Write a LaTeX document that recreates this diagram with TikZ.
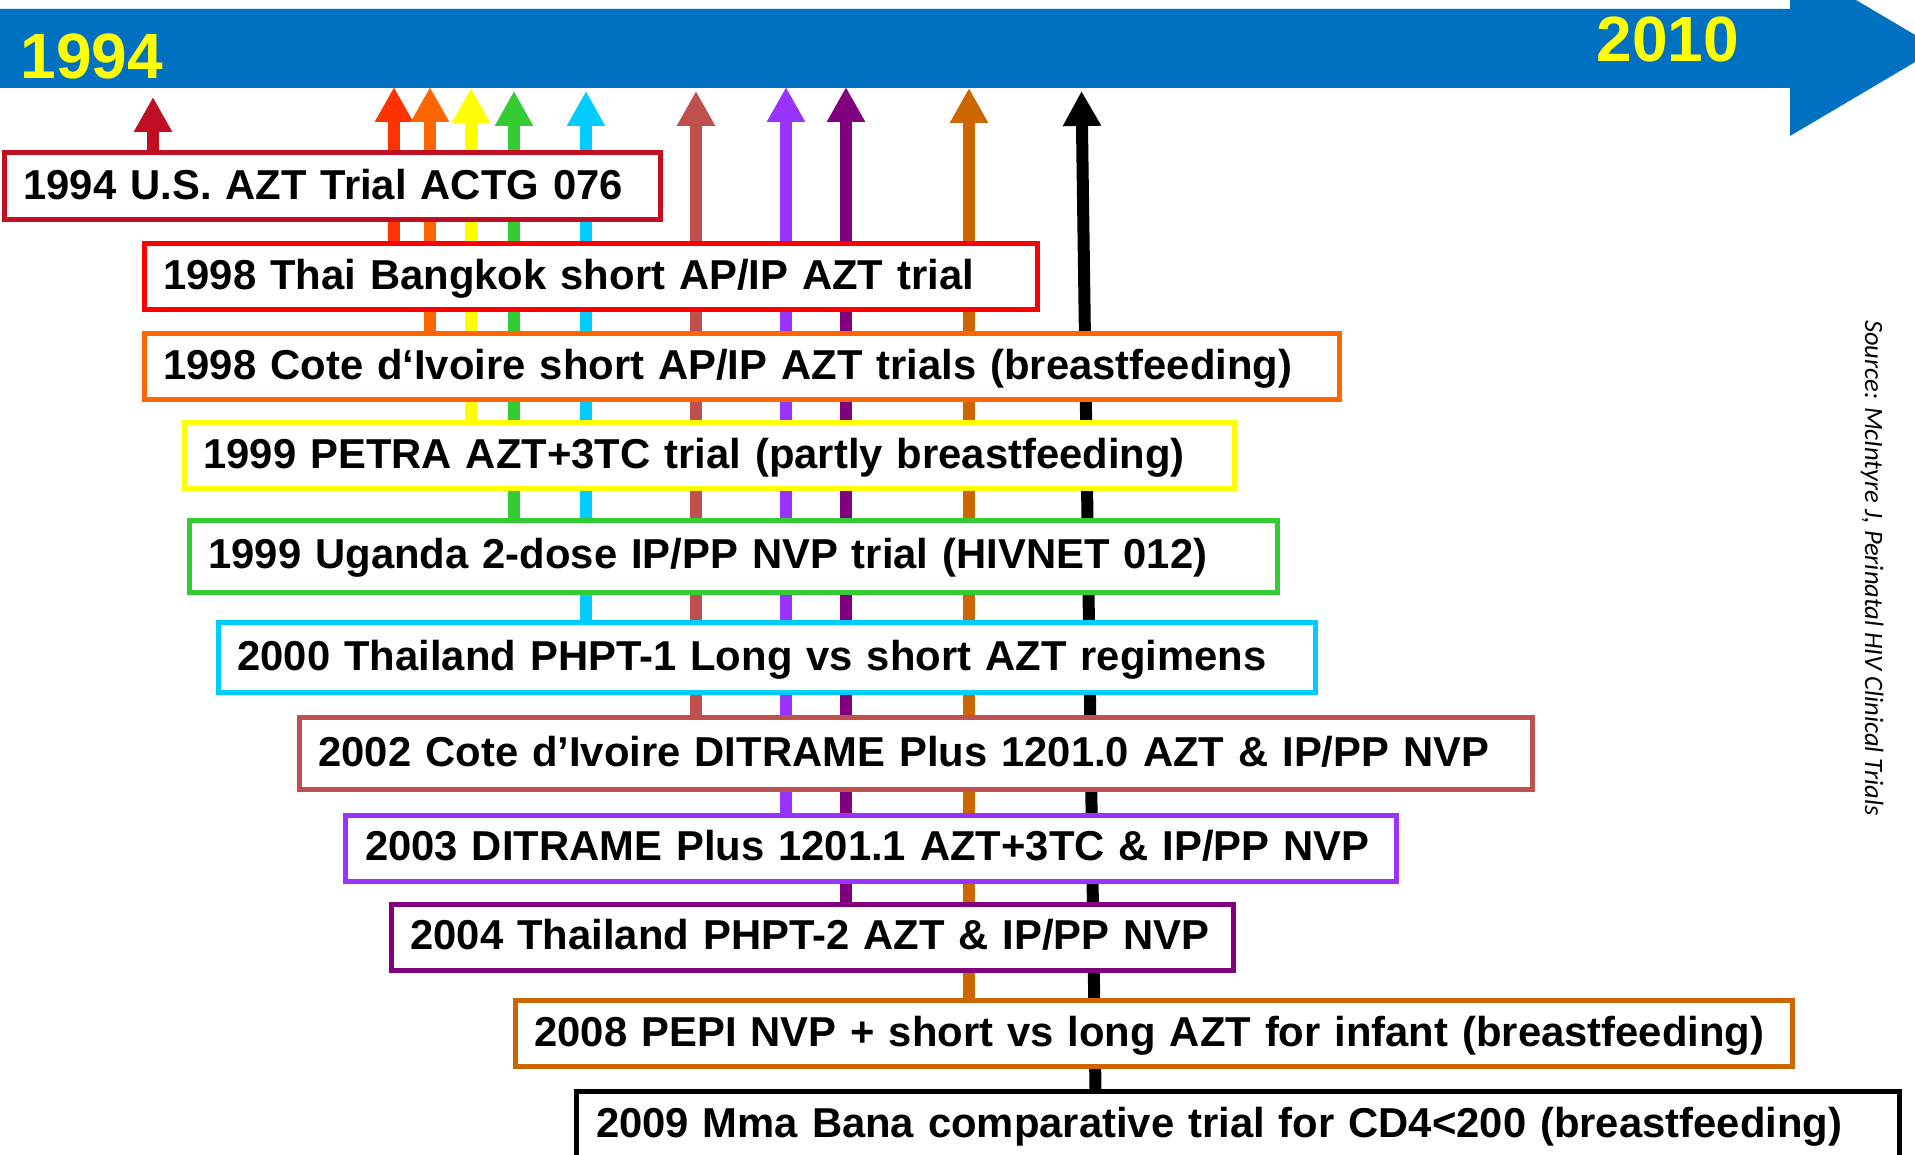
\documentclass[tikz,border=0pt]{standalone}
\usepackage{fontspec}
\setmainfont{Liberation Sans}
\newfontfamily\sourcefont{Carlito}
\usetikzlibrary{arrows.meta, backgrounds}

\definecolor{timeline}{HTML}{0070C0}
\definecolor{yearyellow}{HTML}{FFFF00}
\definecolor{usred}{HTML}{C00F23}
\definecolor{thaiarrow}{HTML}{FF3300}
\definecolor{thaibox}{HTML}{FF0000}
\definecolor{civorange}{HTML}{FF6600}
\definecolor{petrayellow}{HTML}{FFFF00}
\definecolor{ugandagreen}{HTML}{33CC33}
\definecolor{phptcyan}{HTML}{00CCFF}
\definecolor{ditramered}{HTML}{C0504D}
\definecolor{ditramepurple}{HTML}{9933FF}
\definecolor{phptpurple}{HTML}{800080}
\definecolor{pepiorange}{HTML}{CC6600}

\begin{document}
\begin{tikzpicture}[x=1pt, y=-1pt]
    \tikzset{
        trialbox/.style={draw=#1, line width=5pt, fill=white, anchor=north west,
            outer sep=0pt, inner xsep=19.5pt, inner ysep=0pt, text height=31pt,
            text depth=5.4pt, align=left, font=\fontsize{41.8}{50}\selectfont\bfseries,
            execute at begin node={\hbox\bgroup}, execute at end node={\egroup}},
        trialarrow/.style={draw=#1, line width=11.5pt,
            -{Triangle[width=36pt, length=35pt]}},
        yearlabel/.style={text=yearyellow, inner sep=0pt, text height=45.8pt,
            text depth=0pt, font=\fontsize{64}{70}\selectfont\bfseries}
    }
    \useasboundingbox (0,0) rectangle (1915,1155);
    \clip (0,0) rectangle (1915,1155);

    % trials, top to bottom
    \node[trialbox=usred, text width=617pt, minimum height=67pt] (t1) at (4,153) {1994 U.S. AZT Trial ACTG 076};
    \node[trialbox=thaibox, text width=854pt, minimum height=66.5pt] (t2) at (144,243.5) {1998 Thai Bangkok short AP/IP AZT trial};
    \node[trialbox=civorange, text width=1156pt, minimum height=66pt] (t3) at (144,334) {1998 Cote d‘Ivoire short AP/IP AZT trials (breastfeeding)};
    \node[trialbox=petrayellow, text width=1011pt, minimum height=66pt] (t4) at (184,422.5) {1999 PETRA AZT+3TC trial (partly breastfeeding)};
    \node[trialbox=ugandagreen, text width=1049pt, minimum height=72pt] (t5) at (189,520) {1999 Uganda 2-dose IP/PP NVP trial (HIVNET 012)};
    \node[trialbox=phptcyan, text width=1058pt, minimum height=70.5pt] (t6) at (218,622) {2000 Thailand PHPT-1 Long vs short AZT regimens};
    \node[trialbox=ditramered, text width=1194pt, minimum height=71.5pt] (t7) at (299,717.5) {2002 Cote d’Ivoire DITRAME Plus 1201.0 AZT \& IP/PP NVP};
    \node[trialbox=ditramepurple, text width=1012pt, minimum height=66pt] (t8) at (345.5,815) {2003 DITRAME Plus 1201.1 AZT+3TC \& IP/PP NVP};
    \node[trialbox=phptpurple, text width=803pt, minimum height=66pt] (t9) at (391,904) {2004 Thailand PHPT-2 AZT \& IP/PP NVP};
    \node[trialbox=pepiorange, text width=1238pt, minimum height=66.5pt] (t10) at (515,1000) {2008 PEPI NVP + short vs long AZT for infant (breastfeeding)};
    \node[trialbox=black, text width=1284pt, minimum height=67pt] (t11) at (576.5,1091) {2009 Mma Bana comparative trial for CD4<200 (breastfeeding)};

    % where each arrow meets the time line
    \coordinate (a1) at (153,97);
    \coordinate (a2) at (394,87);
    \coordinate (a3) at (430,87);
    \coordinate (a4) at (471,88);
    \coordinate (a5) at (514,91);
    \coordinate (a6) at (586,91);
    \coordinate (a7) at (696,91);
    \coordinate (a8) at (786,87);
    \coordinate (a9) at (846,87);
    \coordinate (a10) at (969,88);
    \coordinate (a11) at (1081.5,91);
    \coordinate (f11) at (1095.5,0);

    \begin{scope}[on background layer]
        % the time line
        \fill[timeline] (-2,9) -- (1790,9) -- (1790,-39) -- (1938,48.5)
            -- (1790,136) -- (1790,88) -- (-2,88) -- cycle;
        \draw[trialarrow=usred] (a1 |- t1.north) -- (a1);
        \draw[trialarrow=thaiarrow] (a2 |- t2.north) -- (a2);
        \draw[trialarrow=civorange] (a3 |- t3.north) -- (a3);
        \draw[trialarrow=petrayellow] (a4 |- t4.north) -- (a4);
        \draw[trialarrow=ugandagreen] (a5 |- t5.north) -- (a5);
        \draw[trialarrow=phptcyan] (a6 |- t6.north) -- (a6);
        \draw[trialarrow=ditramered] (a7 |- t7.north) -- (a7);
        \draw[trialarrow=ditramepurple] (a8 |- t8.north) -- (a8);
        \draw[trialarrow=phptpurple] (a9 |- t9.north) -- (a9);
        \draw[trialarrow=pepiorange] (a10 |- t10.north) -- (a10);
        \draw[trialarrow=black, line width=12pt] (f11 |- t11.north) -- (a11);
    \end{scope}

    \node[yearlabel] (y1994) at (92,55.5) {1994};
    \node[yearlabel] (y2010) at (1668,39) {2010};

    \node[rotate=-90, anchor=base, font=\sourcefont\itshape\fontsize{26.5}{30}\selectfont] (source) at (1865,568) {Source: McIntyre J, Perinatal HIV Clinical Trials};
\end{tikzpicture}
\end{document}
